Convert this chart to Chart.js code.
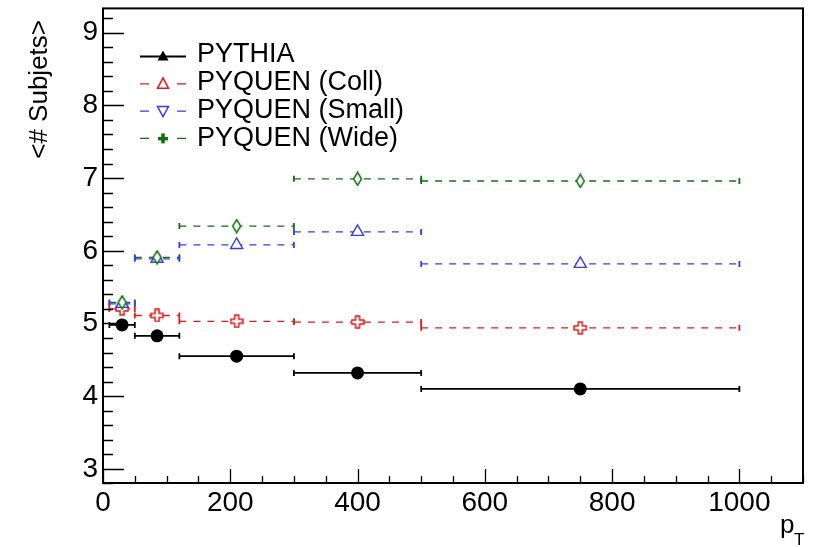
<!DOCTYPE html>
<html>
<head>
<meta charset="utf-8">
<script src="https://cdn.jsdelivr.net/npm/chart.js@4.4.0/dist/chart.umd.min.js"></script>
<style>
  html, body { margin: 0; padding: 0; background: #fff; }
  canvas { display: block; }
</style>
</head>
<body>
<canvas id="chart" width="814" height="547"></canvas>
<script>
// pT bins: lower / upper edges and the bin centres
const binLow = [10, 50, 120, 300, 500];
const binHigh = [50, 120, 300, 500, 1000];
const binCenter = [30, 85, 210, 400, 750];

// <# Subjets> in each bin
const pythia = [4.98, 4.83, 4.55, 4.32, 4.10];
const pyquenColl = [5.20, 5.11, 5.03, 5.02, 4.94];
const pyquenSmall = [5.27, 5.89, 6.08, 6.26, 5.82];
const pyquenWide = [5.29, 5.91, 6.34, 6.99, 6.96];

const seriesNames = ['PYTHIA', 'PYQUEN (Coll)', 'PYQUEN (Small)', 'PYQUEN (Wide)'];
const xTicks = [0, 200, 400, 600, 800, 1000];
const yTicks = [3, 4, 5, 6, 7, 8, 9];

const FONT = '"Liberation Sans", Arial, Helvetica, sans-serif';
const RED = '#e01b1b';
const BLUE = '#3a3ae8';
const GREEN = '#0f720f';

Chart.defaults.font.family = FONT;
Chart.defaults.color = '#000';

function makeCanvas(w, h, draw) {
    const c = document.createElement('canvas');
    c.width = w;
    c.height = h;
    draw(c.getContext('2d'));
    return c;
}

// open plus marker (red)
const openCross = makeCanvas(14, 14, ctx => {
    const p = [[5, 1], [9, 1], [9, 5], [13, 5], [13, 9], [9, 9], [9, 13], [5, 13], [5, 9], [1, 9], [1, 5], [5, 5]];
    ctx.beginPath();
    p.forEach(([x, y], i) => i ? ctx.lineTo(x, y) : ctx.moveTo(x, y));
    ctx.closePath();
    ctx.fillStyle = '#fff';
    ctx.fill();
    ctx.strokeStyle = RED;
    ctx.lineWidth = 1.5;
    ctx.stroke();
});

// open narrow diamond (green)
const openDiamond = makeCanvas(11, 15, ctx => {
    ctx.beginPath();
    ctx.moveTo(5.5, 1);
    ctx.lineTo(9.5, 7.5);
    ctx.lineTo(5.5, 14);
    ctx.lineTo(1.5, 7.5);
    ctx.closePath();
    ctx.fillStyle = '#fff';
    ctx.fill();
    ctx.strokeStyle = GREEN;
    ctx.lineWidth = 1.5;
    ctx.stroke();
});

function markerData(values) {
    return binCenter.map((x, i) => ({ x, y: values[i] }));
}

// horizontal bin-width bars, one segment per bin, broken by a null point
function barData(values) {
    const pts = [];
    values.forEach((v, i) => {
        pts.push({ x: binLow[i], y: v }, { x: binHigh[i], y: v }, { x: binHigh[i], y: null });
    });
    return pts;
}

function barDataset(values, color, dashed) {
    return {
        data: barData(values),
        showLine: true,
        spanGaps: false,
        borderColor: color,
        borderWidth: dashed ? 1.3 : 1.8,
        borderDash: dashed ? [7, 7] : [],
        pointStyle: 'line',
        pointRotation: 90,
        pointRadius: 3,
        pointBorderWidth: 1.8,
        pointBorderColor: color,
        order: 10
    };
}

const framePlugin = {
    id: 'frame',
    afterDraw(chart) {
        const { ctx, chartArea: a, scales } = chart;
        const x = scales.x, y = scales.y;
        ctx.save();
        ctx.strokeStyle = '#000';

        // inward ticks on the left axis
        ctx.lineWidth = 1.3;
        ctx.beginPath();
        for (let k = 0; ; k++) {
            const v = 2.8 + k * 0.2;
            if (v > y.max + 1e-6) break;
            const py = Math.round(y.getPixelForValue(v)) + 0.5;
            const major = Math.abs(v - Math.round(v)) < 1e-6;
            ctx.moveTo(a.left, py);
            ctx.lineTo(a.left + (major ? 21 : 10), py);
        }
        // inward ticks on the bottom axis
        for (let v = 0; v <= x.max; v += 50) {
            const px = Math.round(x.getPixelForValue(v)) + 0.5;
            const major = v % 200 === 0;
            ctx.moveTo(px, a.bottom);
            ctx.lineTo(px, a.bottom - (major ? 14 : 7));
        }
        ctx.stroke();

        // frame
        ctx.lineWidth = 2;
        ctx.strokeRect(a.left, a.top, a.right - a.left, a.bottom - a.top);

        // axis titles
        ctx.fillStyle = '#000';
        ctx.font = '26px ' + FONT;
        ctx.textBaseline = 'middle';
        ctx.textAlign = 'right';
        ctx.translate(40, 20);
        ctx.rotate(-Math.PI / 2);
        ctx.fillText('<# Subjets>', 0, 0);
        ctx.setTransform(1, 0, 0, 1, 0, 0);

        ctx.textAlign = 'left';
        ctx.textBaseline = 'alphabetic';
        ctx.font = '26px ' + FONT;
        ctx.fillText('p', 780, 533);
        ctx.font = '17px ' + FONT;
        ctx.fillText('T', 794, 545);
        ctx.restore();
    }
};

const legendPlugin = {
    id: 'boxLegend',
    afterDraw(chart) {
        const ctx = chart.ctx;
        const colors = ['#000', RED, BLUE, GREEN];
        ctx.save();
        seriesNames.forEach((name, i) => {
            const yc = 56.5 + i * 27.3;
            const col = colors[i];
            ctx.strokeStyle = col;
            ctx.fillStyle = col;
            if (i === 0) {
                ctx.lineWidth = 1.8;
                ctx.beginPath();
                ctx.moveTo(140, yc);
                ctx.lineTo(186, yc);
                ctx.stroke();
            } else {
                ctx.lineWidth = 1.3;
                ctx.beginPath();
                ctx.moveTo(140, yc);
                ctx.lineTo(149, yc);
                ctx.moveTo(177, yc);
                ctx.lineTo(186, yc);
                ctx.stroke();
            }
            ctx.lineWidth = 1.5;
            ctx.beginPath();
            if (i === 0) {
                ctx.moveTo(163, yc - 6);
                ctx.lineTo(168.5, yc + 4);
                ctx.lineTo(157.5, yc + 4);
                ctx.closePath();
                ctx.fill();
            } else if (i === 1) {
                ctx.moveTo(163, yc - 6);
                ctx.lineTo(168.5, yc + 4.5);
                ctx.lineTo(157.5, yc + 4.5);
                ctx.closePath();
                ctx.stroke();
            } else if (i === 2) {
                ctx.moveTo(163, yc + 5.5);
                ctx.lineTo(168.5, yc - 4.5);
                ctx.lineTo(157.5, yc - 4.5);
                ctx.closePath();
                ctx.stroke();
            } else {
                ctx.fillRect(158, yc - 1.5, 10, 3.5);
                ctx.fillRect(161.2, yc - 5, 3.6, 10);
            }
            ctx.fillStyle = '#000';
            ctx.font = '27px ' + FONT;
            ctx.textAlign = 'left';
            ctx.textBaseline = 'alphabetic';
            ctx.fillText(name, 197, 62.2 + i * 28);
        });
        ctx.restore();
    }
};

new Chart(document.getElementById('chart'), {
    type: 'scatter',
    data: {
        datasets: [
            barDataset(pythia, '#000', false),
            barDataset(pyquenColl, RED, true),
            barDataset(pyquenSmall, BLUE, true),
            barDataset(pyquenWide, GREEN, true),
            {
                data: markerData(pyquenColl),
                pointStyle: openCross,
                order: 3
            },
            {
                data: markerData(pyquenSmall),
                pointStyle: 'triangle',
                pointRadius: 7,
                pointBackgroundColor: '#fff',
                pointBorderColor: BLUE,
                pointBorderWidth: 1.4,
                order: 2
            },
            {
                data: markerData(pyquenWide),
                pointStyle: openDiamond,
                order: 1
            },
            {
                data: markerData(pythia),
                pointStyle: 'circle',
                pointRadius: 6.5,
                pointBackgroundColor: '#000',
                pointBorderColor: '#000',
                pointBorderWidth: 0,
                order: 0
            }
        ]
    },
    options: {
        responsive: false,
        animation: false,
        layout: {
            padding: { top: 8, right: 11, left: 0, bottom: 0 }
        },
        plugins: {
            legend: { display: false },
            tooltip: { enabled: false }
        },
        scales: {
            x: {
                type: 'linear',
                min: 0,
                max: 1100,
                grid: { display: false, drawTicks: false },
                border: { display: false },
                ticks: {
                    font: { size: 28 },
                    color: '#000',
                    padding: 3,
                    maxRotation: 0,
                    autoSkip: false,
                    callback: v => String(v)
                },
                afterBuildTicks: scale => {
                    scale.ticks = xTicks.map(v => ({ value: v }));
                },
                afterFit: scale => {
                    scale.height = 64;
                    scale.paddingLeft = 0;
                    scale.paddingRight = 0;
                }
            },
            y: {
                type: 'linear',
                min: 2.806,
                max: 9.334,
                grid: { display: false, drawTicks: false },
                border: { display: false },
                ticks: {
                    font: { size: 28 },
                    color: '#000',
                    padding: 5
                },
                afterBuildTicks: scale => {
                    scale.ticks = yTicks.map(v => ({ value: v }));
                },
                afterFit: scale => {
                    scale.width = 103;
                    scale.paddingTop = 0;
                    scale.paddingBottom = 0;
                }
            }
        }
    },
    plugins: [framePlugin, legendPlugin]
});
</script>
</body>
</html>
